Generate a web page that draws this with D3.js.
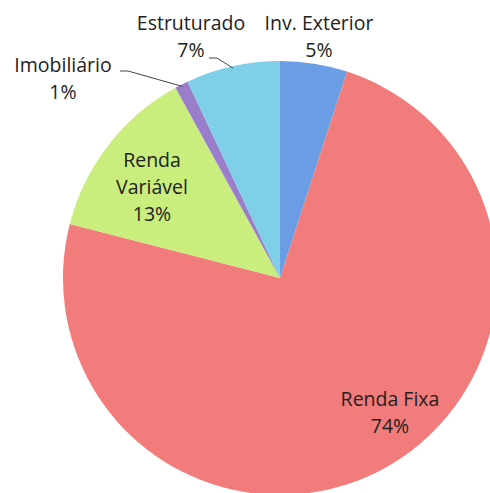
<!DOCTYPE html>
<html>
<head>
<meta charset="utf-8">
<script src="https://cdn.jsdelivr.net/npm/d3@7"></script>
<style>
  body { margin: 0; background: #fff; }
  text { font-family: "Open Sans", Lato, sans-serif; fill: #222; }
</style>
</head>
<body>
<div id="chart"></div>
<script>
// CHART DATA
const categories = ['Inv. Exterior', 'Renda Fixa', 'Renda Variável', 'Imobiliário', 'Estruturado'];
const shares = [5, 74, 13, 1, 7];
const sliceColors = ['#6b9de4', '#f27b7b', '#c9ee7d', '#9a7ecb', '#7ecfe7'];

// PLOT DEFAULTS
const WIDTH = 490;
const HEIGHT = 493;
const CENTER = { x: 280, y: 278 };
const RADIUS = 217;
const FONT_SIZE = 19.5;

const svg = d3.select('#chart')
  .append('svg')
  .attr('width', WIDTH)
  .attr('height', HEIGHT);

const pieData = d3.pie().sort(null).value(d => d)(shares);
const arc = d3.arc().innerRadius(0).outerRadius(RADIUS);

const pieG = svg.append('g')
  .attr('transform', `translate(${CENTER.x}, ${CENTER.y})`);

pieG.selectAll('path')
  .data(pieData)
  .join('path')
  .attr('d', arc)
  .attr('fill', (d, i) => sliceColors[i]);

// label positions, relative to the pie centre
const labels = [
  { i: 0, dx: 39, dy: -248, lines: [categories[0], shares[0] + '%'] },
  { i: 1, dx: 110, dy: 128, lines: [categories[1], shares[1] + '%'] },
  { i: 2, dx: -128, dy: -111, lines: ['Renda', 'Variável', shares[2] + '%'] },
  { i: 3, dx: -217, dy: -206, lines: [categories[3], shares[3] + '%'] },
  { i: 4, dx: -89, dy: -248, lines: [categories[4], shares[4] + '%'] }
];

const LINE_H = 27;

const labelG = svg.append('g')
  .attr('transform', `translate(${CENTER.x}, ${CENTER.y})`);

labels.forEach(l => {
  const t = labelG.append('text')
    .attr('text-anchor', 'middle')
    .attr('font-size', FONT_SIZE);
  l.lines.forEach((s, k) => {
    t.append('tspan')
      .attr('x', l.dx)
      .attr('y', l.dy + k * LINE_H)
      .text(s);
  });
});

// leader lines for the small slices
function leader (sliceIdx, start, elbowLen) {
  const d = pieData[sliceIdx];
  const a = (d.startAngle + d.endAngle) / 2;
  const r = RADIUS - 2;
  const end = [Math.sin(a) * r, -Math.cos(a) * r];
  labelG.append('polyline')
    .attr('points', [start, [start[0] + elbowLen, start[1]], end].map(p => p.join(',')).join(' '))
    .attr('fill', 'none')
    .attr('stroke', '#444')
    .attr('stroke-width', 1);
}
leader(3, [-160, -207], 8);
leader(4, [-71, -220], 8);
</script>
</body>
</html>
